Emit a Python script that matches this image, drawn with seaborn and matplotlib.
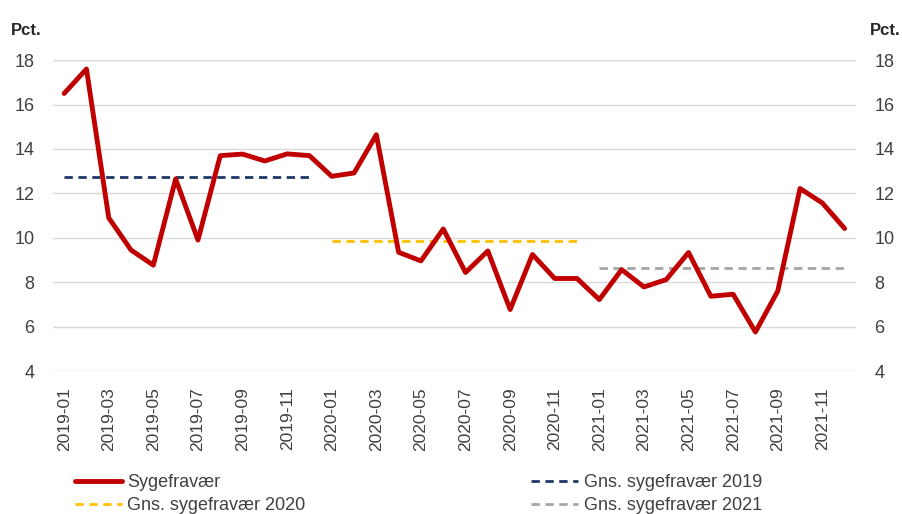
import pandas as pd
import matplotlib.pyplot as plt
import seaborn as sns

months = [f"{y}-{m:02d}" for y in (2019, 2020, 2021) for m in range(1, 13)]

sygefravaer = [16.5, 17.6, 10.9, 9.45, 8.77, 12.65, 9.9, 13.7, 13.77, 13.46, 13.78, 13.7,
               12.77, 12.92, 14.64, 9.35, 8.96, 10.4, 8.44, 9.41, 6.77, 9.25, 8.17, 8.17,
               7.22, 8.57, 7.79, 8.12, 9.34, 7.37, 7.46, 5.76, 7.6, 12.22, 11.57, 10.42]

avg_years = ["2019", "2020", "2021"]
avg_values = [12.74, 9.88, 8.62]
avg_colors = ["#1F3864", "#FFC000", "#A6A6A6"]

df = pd.DataFrame({"month": months, "pos": range(len(months)), "value": sygefravaer})
df["year"] = df["month"].str[:4]

sns.set_style("white")
plt.rcParams["font.family"] = ["Liberation Sans", "DejaVu Sans"]

fig = plt.figure(figsize=(9.03, 5.14), dpi=100)
ax = fig.add_axes([0.0587, 0.278, 0.889, 0.605])

sns.lineplot(data=df, x="pos", y="value", color="#C00000", linewidth=3.5,
             ax=ax, label="Sygefravær", zorder=3)

for yr, val, col in zip(avg_years, avg_values, avg_colors):
    sub = df[df["year"] == yr].copy()
    sub["avg"] = val
    sns.lineplot(data=sub, x="pos", y="avg", color=col, linewidth=2,
                 linestyle=(0, (3, 2)), ax=ax, label=f"Gns. sygefravær {yr}", zorder=2)

ax.set_xlim(-0.5, 35.5)
ax.set_ylim(4, 18)
ax.set_yticks(range(4, 19, 2))
ax.set_xticks(range(0, 36, 2))
ax.set_xticklabels(months[::2], rotation=90, fontsize=12.5)
ax.grid(axis="y", color="#D9D9D9", linewidth=1)
ax.set_axisbelow(True)
for s in ax.spines.values():
    s.set_visible(False)
ax.tick_params(axis="y", labelsize=13, labelright=True, left=False, right=False, pad=10,
               colors="#404040")
ax.tick_params(axis="x", bottom=False, pad=8, colors="#404040")
ax.set_xlabel("")
ax.set_ylabel("")

fig.text(0.012, 0.94, "Pct.", fontsize=12, fontweight="bold", ha="left", va="center")
fig.text(0.997, 0.94, "Pct.", fontsize=12, fontweight="bold", ha="right", va="center")

h, l = ax.get_legend_handles_labels()
ax.get_legend().remove()
order = [0, 2, 1, 3]
fig.legend([h[i] for i in order], [l[i] for i in order], ncol=2, frameon=False,
           loc="lower left", bbox_to_anchor=(0.065, -0.032), fontsize=13,
           columnspacing=12.5, handlelength=2.6, handletextpad=0.3, labelspacing=0.35,
           labelcolor="#404040")

fig.savefig("out.png", dpi=100)
